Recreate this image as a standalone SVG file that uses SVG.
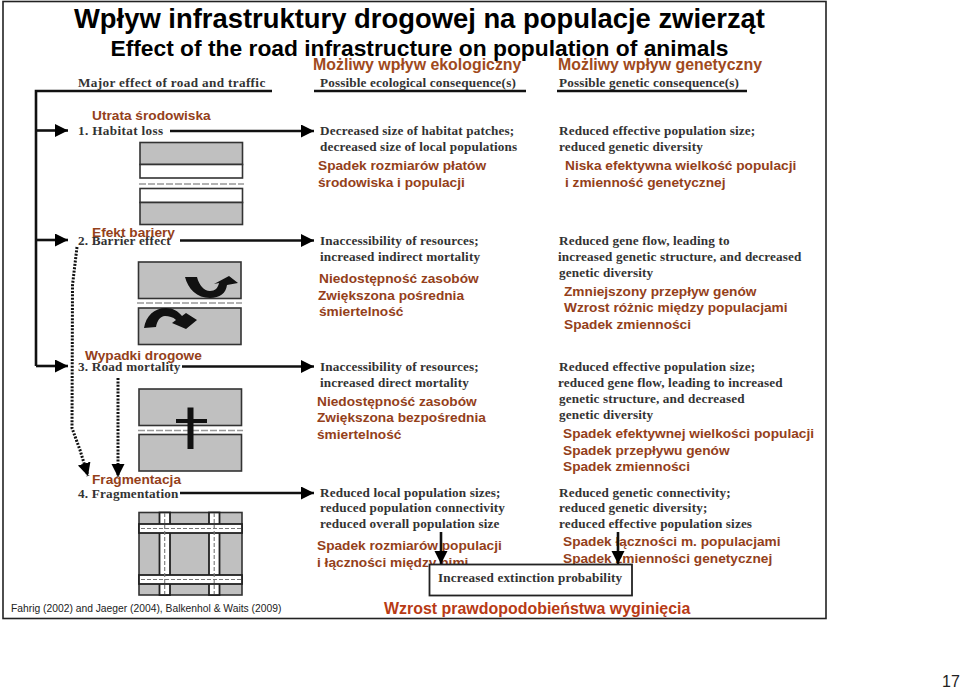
<svg xmlns="http://www.w3.org/2000/svg" width="960" height="690" viewBox="0 0 960 690">
<style>
text{font-family:"Liberation Sans",Arial,sans-serif}
.t1{font-size:27.4px;font-weight:bold;fill:#000}
.t2{font-size:22.8px;font-weight:bold;fill:#000}
.h{font-size:15.9px;font-weight:bold;fill:#a04a1c}
.r{font-size:13.7px;font-weight:bold;fill:#94401a}
.s{font-family:"Liberation Serif","Times New Roman",serif;font-size:13.2px;font-weight:bold;fill:#333;letter-spacing:.14px}
.sw{letter-spacing:.35px}
.sm{letter-spacing:.2px}
.ln{stroke:#111;stroke-width:2.6;fill:none}
.g{fill:#c0c0c0;stroke:#333;stroke-width:1.6}
.w{fill:#fff;stroke:#333;stroke-width:1.6}
.d{stroke:#999;stroke-width:1.6;stroke-dasharray:7 2;fill:none}
.rd{fill:#fff;stroke:#222;stroke-width:1.8}
.dw{stroke:#777;stroke-width:1.1;stroke-dasharray:4 2;fill:none}
.dot{stroke:#111;stroke-width:3;stroke-dasharray:2 1.4;fill:none}
</style>
<defs>
<marker id="ah" markerUnits="userSpaceOnUse" markerWidth="14" markerHeight="14" refX="13" refY="6.5" orient="auto"><path d="M0 0L13 6.5L0 13Z" fill="#000"/></marker>
</defs>
<rect x="0" y="0" width="960" height="690" fill="#fff"/>
<rect id="frame" x="3" y="1.5" width="823" height="617" fill="#fff" stroke="#222" stroke-width="1.6"/>

<g id="title">
<text class="t1" x="419.5" y="28" text-anchor="middle">Wpływ infrastruktury drogowej na populacje zwierząt</text>
<text class="t2" x="419.5" y="56" text-anchor="middle">Effect of the road infrastructure on population of animals</text>
</g>

<g id="headers">
<text class="h" x="313" y="70">Możliwy wpływ ekologiczny</text>
<text class="h" x="558" y="70">Możliwy wpływ genetyczny</text>
<text class="s sw" x="78" y="87">Major effect of road and traffic</text>
<text class="s" x="320" y="87">Possible ecological consequence(s)</text>
<text class="s" x="559" y="87">Possible genetic consequence(s)</text>
</g>

<g id="node1">
<text class="r" x="92" y="120">Utrata środowiska</text>
<text class="s sw" x="78" y="135">1. Habitat loss</text>
<rect class="g" x="140" y="142.500" width="102.500" height="22"/>
<rect class="w" x="140" y="164.500" width="102.500" height="13.500"/>
<path class="d" d="M139 184H244"/>
<rect class="w" x="140" y="188.500" width="102.500" height="14"/>
<rect class="g" x="140" y="202.500" width="102.500" height="22"/>
<text class="s" x="320" y="135">Decreased size of habitat patches;</text>
<text class="s" x="320" y="151">decreased size of local populations</text>
<text class="r" x="318" y="170">Spadek rozmiarów płatów</text>
<text class="r" x="318" y="187">środowiska i populacji</text>
<text class="s" x="559" y="135">Reduced effective population size;</text>
<text class="s" x="559" y="151">reduced genetic diversity</text>
<text class="r" x="565" y="170">Niska efektywna wielkość populacji</text>
<text class="r" x="565" y="187">i zmienność genetycznej</text>
</g>

<g id="node2">
<text class="s sm" x="78" y="245">2. Barrier effect</text>
<text class="r" x="92" y="237">Efekt bariery</text>
<rect class="g" x="138.500" y="262" width="102.500" height="36.500"/>
<rect class="g" x="138.500" y="308" width="102.500" height="36.500"/>
<path class="d" d="M137 303H242"/>
<path fill="#111" d="M185 277L197 277C199 285 204 291 210 291C215 291 218 288 219 283L214 284L229 276L238 283L227 285C226 293 220 298 210 298C197 298 188 289 185 277Z"/>
<path fill="#111" d="M144 328C146 316 154 308 166 308C173 308 178 311 182 316L186 313L197 320L186 329L172 323L176 320C173 317 169 316 165 316C160 316 157 321 156 327Z"/>
<text class="s" x="320" y="245">Inaccessibility of resources;</text>
<text class="s" x="320" y="261">increased indirect mortality</text>
<text class="r" x="319" y="283">Niedostępność zasobów</text>
<text class="r" x="318" y="300">Zwiększona pośrednia</text>
<text class="r" x="319" y="316">śmiertelność</text>
<text class="s" x="559" y="245">Reduced gene flow, leading to</text>
<text class="s" x="558" y="261">increased genetic structure, and decreased</text>
<text class="s" x="559" y="277">genetic diversity</text>
<text class="r" x="564" y="296">Zmniejszony przepływ genów</text>
<text class="r" x="564" y="312">Wzrost różnic między populacjami</text>
<text class="r" x="564" y="329">Spadek zmienności</text>
</g>

<g id="node3">
<text class="s sm" x="78" y="371">3. Road mortality</text>
<text class="r" x="85" y="360">Wypadki drogowe</text>
<rect class="g" x="139" y="389" width="102.500" height="36.500"/>
<rect class="g" x="139" y="434.500" width="102.500" height="36.500"/>
<path class="d" d="M138 430.500H243"/>
<path fill="#111" d="M187.500 407.500H193.500V419H207V423H193.500V449H187.500V423H176V419H187.500Z"/>
<text class="s" x="320" y="371">Inaccessibility of resources;</text>
<text class="s" x="320" y="387">increased direct mortality</text>
<text class="r" x="317" y="406">Niedostępność zasobów</text>
<text class="r" x="317" y="422">Zwiększona bezpośrednia</text>
<text class="r" x="317" y="439">śmiertelność</text>
<text class="s" x="559" y="371">Reduced effective population size;</text>
<text class="s" x="558" y="387">reduced gene flow, leading to increased</text>
<text class="s" x="559" y="403">genetic structure, and decreased</text>
<text class="s" x="559" y="419">genetic diversity</text>
<text class="r" x="563" y="438">Spadek efektywnej wielkości populacji</text>
<text class="r" x="563" y="455">Spadek przepływu genów</text>
<text class="r" x="563" y="471">Spadek zmienności</text>
</g>

<g id="node4">
<text class="r" x="92" y="484">Fragmentacja</text>
<text class="s sm" x="78" y="498">4. Fragmentation</text>
<rect class="g" x="139" y="512.500" width="103" height="82.500"/>
<rect class="rd" x="159.500" y="512.500" width="10.500" height="82.500"/>
<rect class="rd" x="209" y="512.500" width="10.500" height="82.500"/>
<rect class="rd" x="139" y="524" width="103" height="9"/>
<rect class="rd" x="139" y="575" width="103" height="9"/>
<path class="dw" d="M164.700 513V594M214.200 513V594"/>
<path class="dw" d="M141 528.500H241M141 579.500H241"/>
<text class="s" x="320" y="497">Reduced local population sizes;</text>
<text class="s" x="320" y="512">reduced population connectivity</text>
<text class="s" x="320" y="528">reduced overall population size</text>
<text class="r" x="317" y="550">Spadek rozmiarów populacji</text>
<text class="r" x="317" y="567">i łączności między nimi</text>
<text class="s" x="559" y="497">Reduced genetic connectivity;</text>
<text class="s" x="559" y="512">reduced genetic diversity;</text>
<text class="s" x="559" y="528">reduced effective population sizes</text>
<text class="r" x="563" y="546">Spadek łączności m. populacjami</text>
<text class="r" x="563" y="563">Spadek zmienności genetycznej</text>
</g>

<g id="outcome">
<rect x="429.500" y="564.500" width="202.500" height="31" fill="#fff" stroke="#222" stroke-width="1.8"/>
<text class="s" x="438" y="582">Increased extinction probability</text>
<text x="384" y="614" font-size="15.950" font-weight="bold" fill="#b83a14">Wzrost prawdopodobieństwa wyginięcia</text>
</g>

<g id="connectors">
<path class="ln" d="M272 91H36V366"/>
<path class="ln" d="M314 91H526M557 91H747"/>
<path class="ln" d="M36 130.500H68" marker-end="url(#ah)"/>
<path class="ln" d="M36 240H68" marker-end="url(#ah)"/>
<path class="ln" d="M36 366H68" marker-end="url(#ah)"/>
<path class="ln" d="M170 131H314" marker-end="url(#ah)"/>
<path class="ln" d="M180 240.500H314" marker-end="url(#ah)"/>
<path class="ln" d="M182 366.500H314" marker-end="url(#ah)"/>
<path class="ln" d="M180 493H314" marker-end="url(#ah)"/>
<path class="dot" d="M77 247L72.500 285L72 428L80 450L88 476" marker-end="url(#ah)"/>
<path class="dot" d="M118 378V477" marker-end="url(#ah)"/>
<path class="ln" d="M441 532V564" marker-end="url(#ah)"/>
<path class="ln" d="M618 532V564" marker-end="url(#ah)"/>
</g>

<text id="source" x="11" y="612" font-size="10.300" fill="#222">Fahrig (2002) and Jaeger (2004), Balkenhol &amp; Waits (2009)</text>
<text id="page" x="942" y="687" font-size="16" fill="#222">17</text>
</svg>
